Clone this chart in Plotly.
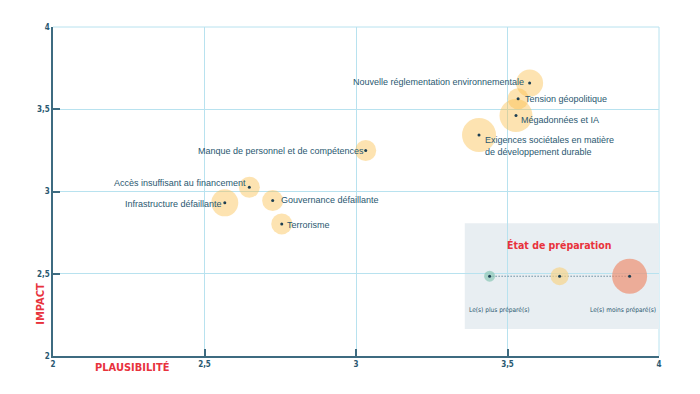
import plotly.graph_objects as go

# ---- data ----
risks = [
    "Nouvelle réglementation environnementale",
    "Tension géopolitique",
    "Mégadonnées et IA",
    "Exigences sociétales en matière<br>de développement durable",
    "Manque de personnel et de compétences",
    "Accès insuffisant au financement",
    "Infrastructure défaillante",
    "Gouvernance défaillante",
    "Terrorisme",
]
plausibility = [3.573, 3.535, 3.528, 3.406, 3.032, 2.648, 2.567, 2.725, 2.755]
impact = [3.659, 3.564, 3.462, 3.343, 3.249, 3.026, 2.931, 2.945, 2.803]
unpreparedness = [2.7, 2.1, 3.3, 3.4, 2.1, 2.1, 2.7, 2.1, 2.1]

x_ticks = [2, 2.5, 3, 3.5, 4]
x_ticktext = ["2", "2,5", "3", "3,5", "4"]
y_ticks = [2, 2.5, 3, 3.5, 4]
y_ticktext = ["2", "2,5", "3", "3,5", "4"]

legend_x = [3.441, 3.672, 3.903]
legend_y = [2.485, 2.485, 2.485]
legend_labels = ["Le(s) plus préparé(s)", "Le(s) moins préparé(s)"]

# ---- styles ----
TEAL = "#2a5870"
AXIS = "#3d6b80"
GRID = "#b8e2ef"
RED = "#e8323c"
BUBBLE = "rgba(251,190,75,0.62)"

# label placement: (xanchor, yanchor, xshift, yshift)
label_pos = [
    ("right", "middle", -4, 1),
    ("left", "middle", 5, 0),
    ("left", "middle", 3, -4),
    ("left", "top", 4, 2),
    ("right", "middle", 0, 0),
    ("right", "middle", -1, 4),
    ("right", "middle", -1, -1),
    ("left", "middle", 6, 1),
    ("left", "middle", 3, -1),
]

fig = go.Figure()

# inset background box
fig.add_shape(type="rect", x0=3.359, x1=4.0, y0=2.164, y1=2.807,
              fillcolor="#e8eef2", line=dict(width=0), layer="below")

fig.add_trace(go.Scatter(
    x=plausibility, y=impact, mode="markers",
    marker=dict(size=[v * 10 for v in unpreparedness], color=BUBBLE,
                line=dict(width=0)),
    hoverinfo="skip", showlegend=False))
fig.add_trace(go.Scatter(
    x=plausibility, y=impact, mode="markers",
    marker=dict(size=3, color="#1d3f52"),
    hoverinfo="skip", showlegend=False))

# legend inset
fig.add_trace(go.Scatter(
    x=[legend_x[0], legend_x[-1]], y=[legend_y[0], legend_y[-1]], mode="lines",
    line=dict(color=TEAL, width=1, dash="1px,2px"),
    hoverinfo="skip", showlegend=False))
fig.add_trace(go.Scatter(
    x=legend_x, y=legend_y, mode="markers",
    marker=dict(size=[11, 18, 35],
                color=["#8cc8b6", "#f6d48c", "#ee9072"], line=dict(width=0)),
    hoverinfo="skip", showlegend=False))
fig.add_trace(go.Scatter(
    x=legend_x, y=legend_y, mode="markers",
    marker=dict(size=3, color="#1d3f52"),
    hoverinfo="skip", showlegend=False))

for name, px, py, (xa, ya, xs, ys) in zip(risks, plausibility, impact, label_pos):
    fig.add_annotation(x=px, y=py, text=name, showarrow=False,
                       xanchor=xa, yanchor=ya, xshift=xs, yshift=ys, align="left",
                       font=dict(family="Liberation Sans, Arial", size=9, color=TEAL))

fig.add_annotation(x=(legend_x[0] + legend_x[-1]) / 2, y=2.677, text="État de préparation",
                   showarrow=False, xanchor="center", yanchor="middle",
                   font=dict(family="DejaVu Sans Condensed", size=10.5, color=RED, weight="bold"))
fig.add_annotation(x=legend_x[0], y=2.28, text=legend_labels[0], showarrow=False,
                   xanchor="center", yanchor="middle", xshift=10,
                   font=dict(family="DejaVu Sans Condensed", size=6.5, color=TEAL))
fig.add_annotation(x=legend_x[-1], y=2.28, text=legend_labels[1], showarrow=False,
                   xanchor="center", yanchor="middle", xshift=-7,
                   font=dict(family="DejaVu Sans Condensed", size=6.5, color=TEAL))

# axis titles
fig.add_annotation(xref="paper", yref="paper", x=0.132, y=-0.009, text="PLAUSIBILITÉ",
                   showarrow=False, xanchor="center", yanchor="top",
                   font=dict(family="DejaVu Sans Condensed", size=11, color=RED, weight="bold"))
fig.add_annotation(xref="paper", yref="paper", x=-0.02, y=0.16, text="IMPACT",
                   showarrow=False, textangle=-90, xanchor="right", yanchor="middle", xshift=8,
                   font=dict(family="DejaVu Sans Condensed", size=11, color=RED, weight="bold"))

axis_common = dict(
    showgrid=True, gridcolor=GRID, gridwidth=1, zeroline=False,
    showline=True, linecolor=AXIS, linewidth=1.5,
    ticks="inside", ticklen=7, tickcolor=AXIS, tickwidth=1.5,
    tickfont=dict(family="DejaVu Sans Condensed", size=8, color=TEAL, weight="bold"),
)
fig.update_xaxes(range=[2, 4], tickvals=x_ticks, ticktext=x_ticktext, **axis_common)
fig.update_yaxes(range=[2, 4], tickvals=y_ticks, ticktext=y_ticktext, **axis_common)

# top / right frame lines in grid colour
fig.add_shape(type="line", xref="paper", yref="paper", x0=0, x1=1, y0=1, y1=1,
              line=dict(color=GRID, width=1), layer="below")
fig.add_shape(type="line", xref="paper", yref="paper", x0=1, x1=1, y0=0, y1=1,
              line=dict(color=GRID, width=1), layer="below")

fig.update_layout(
    width=700, height=394,
    margin=dict(l=45, r=49, t=19, b=46),
    paper_bgcolor="white", plot_bgcolor="white",
    showlegend=False,
)

fig.write_html("out.html")
